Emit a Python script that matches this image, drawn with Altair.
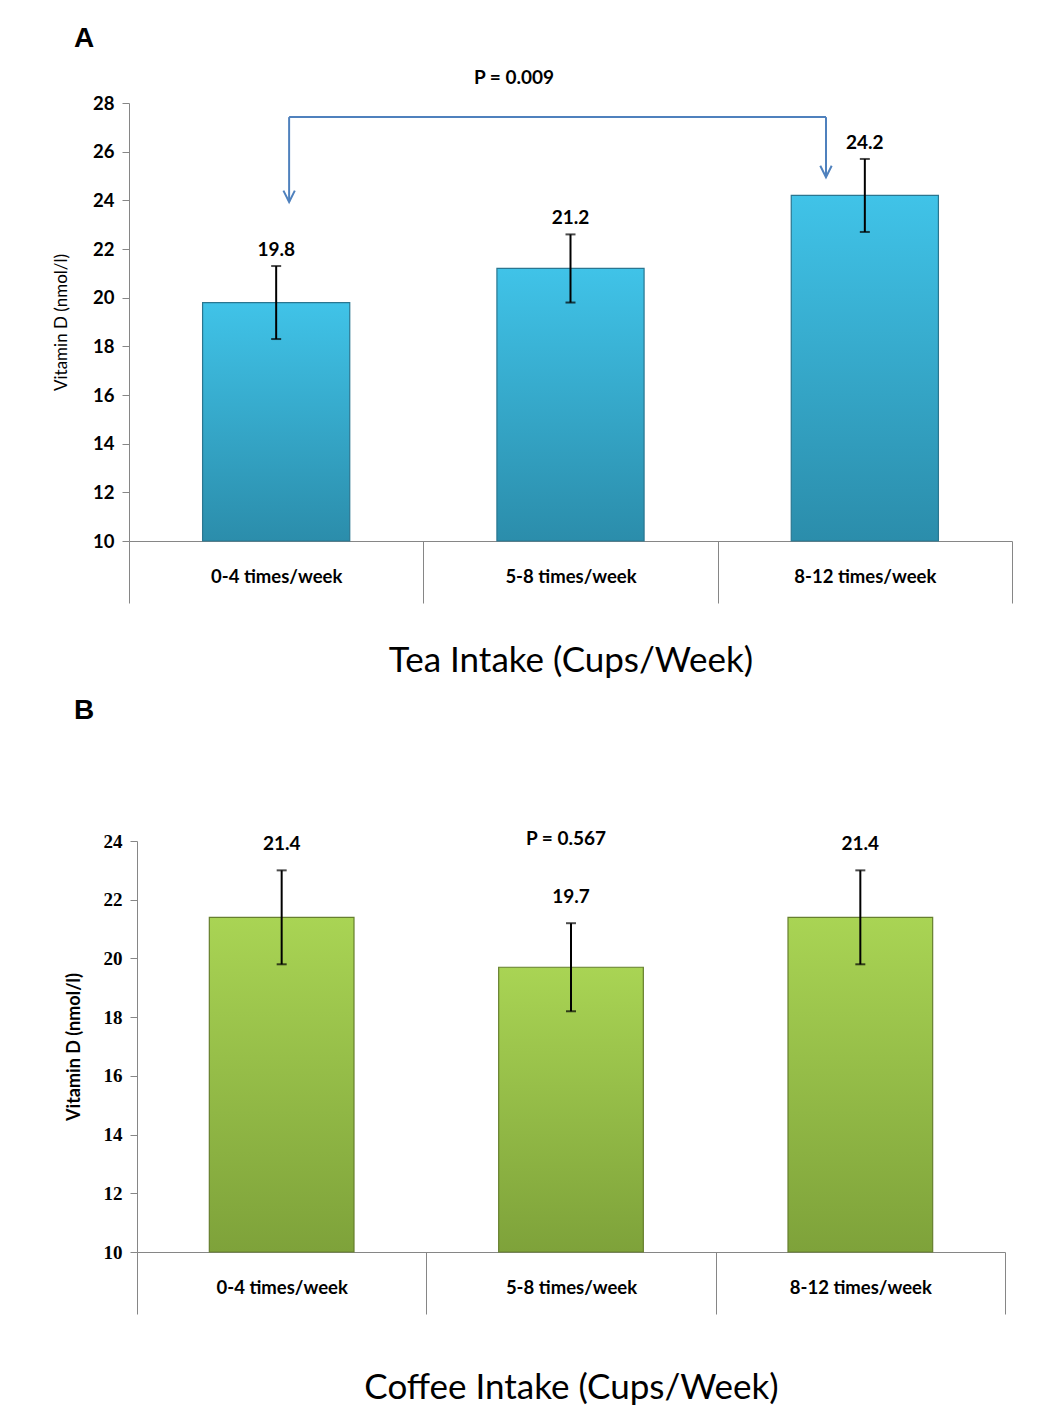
import altair as alt
import pandas as pd

categories = ["0-4 times/week", "5-8 times/week", "8-12 times/week"]
tea_mean = [19.8, 21.2, 24.2]
tea_lo = [18.3, 19.8, 22.7]
tea_hi = [21.3, 22.6, 25.7]
coffee_mean = [21.4, 19.7, 21.4]
coffee_lo = [19.8, 18.2, 19.8]
coffee_hi = [23.0, 21.2, 23.0]

# significance bracket (panel A), in category-index units (0..3) and vitamin D units
bracket_x = [0.544, 2.368]
bracket_top = 27.42
bracket_tips = [23.93, 24.95]

tea = pd.DataFrame({"cat": categories, "mean": tea_mean, "lo": tea_lo, "hi": tea_hi,
                    "label": [f"{v:.1f}" for v in tea_mean]})
coffee = pd.DataFrame({"cat": categories, "mean": coffee_mean, "lo": coffee_lo, "hi": coffee_hi,
                       "label": [f"{v:.1f}" for v in coffee_mean]})

AXIS_GRAY = "#868686"
CAL = "Lato"
NOVIEW = alt.ViewBackground(stroke="transparent", strokeWidth=0)


def panel(df, ymax, xrange, yoffset, grad_top, grad_bot, stroke, tick_font, tick_size,
          ytitle_bold, ytitle_size, ytitle_pad, xtitle, xtitle_pad, ptext, p_x, p_y, label_dy):
    sc = dict(paddingInner=0, paddingOuter=0)
    if xrange is not None:
        sc["range"] = xrange
    xscale = alt.Scale(**sc)
    xenc = alt.X("cat:N", sort=categories, title=xtitle, scale=xscale,
                 axis=alt.Axis(labelAngle=0, tickBand="extent", tickSize=62, domainColor=AXIS_GRAY,
                               tickColor=AXIS_GRAY, labelFont=CAL, labelFontWeight="bold",
                               labelFontSize=18.5, labelColor="black", labelPadding=-36,
                               titleFont=CAL, titleFontSize=35, titleFontWeight="normal",
                               titleColor="black", titlePadding=xtitle_pad))
    yscale = alt.Scale(domain=[10, ymax], zero=False, nice=False)
    yaxis = alt.Axis(values=list(range(10, ymax + 1, 2)), grid=False, domainColor=AXIS_GRAY,
                     tickColor=AXIS_GRAY, tickSize=7, labelFont=tick_font, labelFontWeight="bold",
                     labelFontSize=tick_size, labelColor="black", labelPadding=8,
                     titleFont=CAL, titleFontSize=ytitle_size,
                     titleFontWeight="bold" if ytitle_bold else "normal",
                     titleColor="black", titlePadding=ytitle_pad, offset=yoffset)
    grad = alt.Gradient(gradient="linear", x1=0, y1=0, x2=0, y2=1,
                        stops=[alt.GradientStop(color=grad_top, offset=0),
                               alt.GradientStop(color=grad_bot, offset=1)])
    base = alt.Chart(df)
    xc = alt.X("cat:N", sort=categories, scale=xscale)
    bars = base.mark_bar(width={"band": 0.5}, fill=grad, stroke=stroke, strokeWidth=1.2).encode(
        x=xenc,
        y=alt.Y("mean:Q", scale=yscale, axis=yaxis, title="Vitamin D (nmol/l)"),
        y2=alt.datum(10),
    )
    err = base.mark_rule(color="black", strokeWidth=2).encode(x=xc, y="lo:Q", y2="hi:Q")
    cap_lo = base.mark_tick(color="black", thickness=2, size=10, orient="horizontal").encode(
        x=xc, y="lo:Q")
    cap_hi = base.mark_tick(color="black", thickness=2, size=10, orient="horizontal").encode(
        x=xc, y="hi:Q")
    labels = base.mark_text(font=CAL, fontWeight="bold", fontSize=19, baseline="bottom",
                            dy=label_dy, color="black").encode(x=xc, y="hi:Q", text="label:N")
    ptxt = alt.Chart(pd.DataFrame({"t": [ptext]})).mark_text(
        font=CAL, fontWeight="bold", fontSize=19, color="black").encode(
        x=alt.value(p_x), y=alt.value(p_y), text="t:N")
    return [bars, err, cap_lo, cap_hi, labels, ptxt]


def arrow_layers(ymax):
    yscale = alt.Scale(domain=[10, ymax], zero=False, nice=False)
    xscale = alt.Scale(domain=[0, 3], nice=False, zero=False)
    col = "#4f81bd"
    horiz = pd.DataFrame({"x": [bracket_x[0]], "x2": [bracket_x[1]], "y": [bracket_top]})
    vert = pd.DataFrame({"x": bracket_x, "y": [bracket_top] * 2, "y2": bracket_tips})
    h = alt.Chart(horiz).mark_rule(color=col, strokeWidth=2).encode(
        x=alt.X("x:Q", scale=xscale, axis=None), x2="x2:Q",
        y=alt.Y("y:Q", scale=yscale, axis=None))
    v = alt.Chart(vert).mark_rule(color=col, strokeWidth=2).encode(
        x=alt.X("x:Q", scale=xscale, axis=None),
        y=alt.Y("y:Q", scale=yscale, axis=None), y2="y2:Q")
    heads = alt.Chart(vert).mark_point(shape="M -0.5 -1 L 0 0 L 0.5 -1", filled=False,
                                       size=520, color=col, strokeWidth=2, opacity=1).encode(
        x=alt.X("x:Q", scale=xscale, axis=None),
        y=alt.Y("y2:Q", scale=yscale, axis=None))
    return [h, v, heads]


a_layers = panel(tea, 28, None, 0, "#40c3e8", "#2b8dab", "#2a7690", CAL, 18.5, False, 17, 22,
                 "Tea Intake (Cups/Week)", 40, "P = 0.009", 385, -25, -6)
chartA = alt.layer(*a_layers)
arrowA = alt.layer(*arrow_layers(28))
chartA = alt.layer(chartA, arrowA).resolve_scale(x="independent", y="independent").properties(
    width=883, height=438, view=NOVIEW,
    title=alt.TitleParams("A", anchor="start", frame="group", dx=-55, offset=16,
                          font="Liberation Sans", fontSize=28, fontWeight="bold", color="black"))

b_layers = panel(coffee, 24, [8, 876], -8, "#a9d454", "#7ea23a", "#667f2e", "Liberation Serif", 19,
                 True, 18, 20, "Coffee Intake (Cups/Week)", 56, "P = 0.567", 437, -2, -16)
chartB = alt.layer(*b_layers).properties(
    width=876, height=411, view=NOVIEW,
    title=alt.TitleParams("B", anchor="start", frame="group", dx=-55, offset=105,
                          font="Liberation Sans", fontSize=28, fontWeight="bold", color="black"))

chart = alt.vconcat(chartA, chartB, spacing=18).configure_view(
    stroke="transparent", strokeWidth=0).configure(
    padding={"left": 44, "top": 17, "right": 5, "bottom": 5})

chart.save("out.html", embed_options={"renderer": "svg", "actions": False})
